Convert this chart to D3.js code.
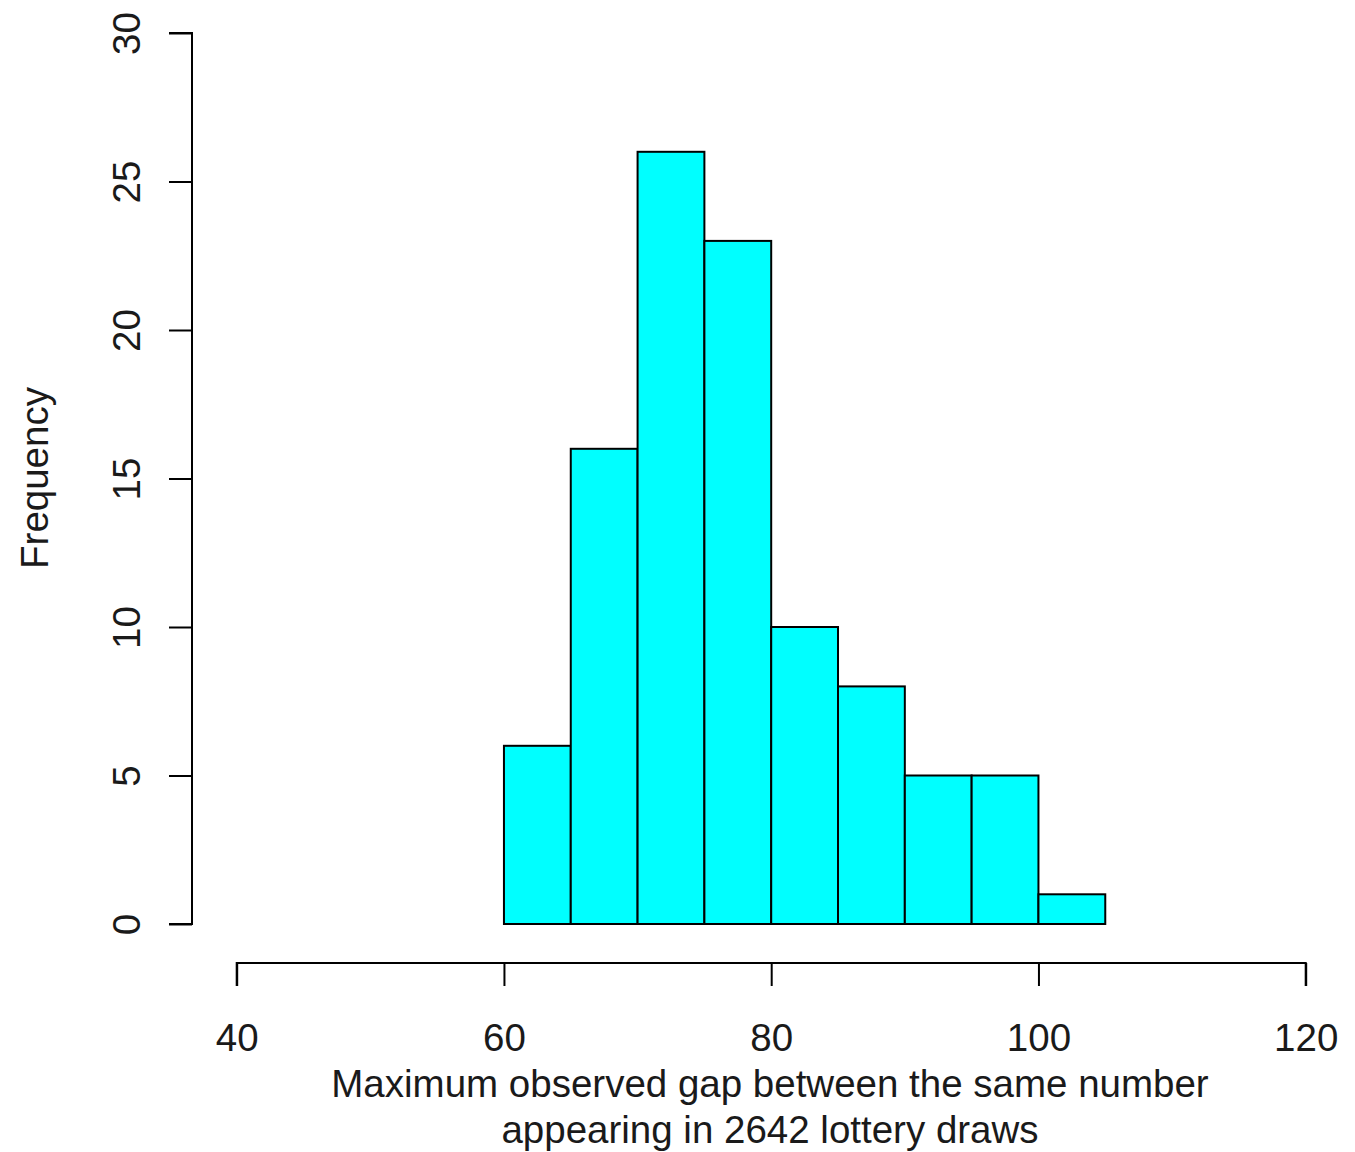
<!DOCTYPE html>
<html><head><meta charset="utf-8">
<script src="https://cdn.jsdelivr.net/npm/d3@7"></script>
<style>html,body{margin:0;padding:0;background:#fff;}svg{display:block;}</style>
</head><body>
<script>
const binStarts = [60, 65, 70, 75, 80, 85, 90, 95, 100];
const binWidth = 5;
const counts = [6, 16, 26, 23, 10, 8, 5, 5, 1];
const xTicks = [40, 60, 80, 100, 120];
const yTicks = [0, 5, 10, 15, 20, 25, 30];
const xTitle = ["Maximum observed gap between the same number", "appearing in 2642 lottery draws"];
const yTitle = "Frequency";

const W = 1355, H = 1152;
const font = "'Liberation Sans', Arial, sans-serif";
const fs = 38.5;
const svg = d3.select("body").append("svg").attr("width", W).attr("height", H);

const x = d3.scaleLinear().domain([40, 120]).range([236.7, 1305.7]);
const y = d3.scaleLinear().domain([0, 30]).range([924, 33]);

// bars
svg.append("g").selectAll("rect").data(binStarts).join("rect")
  .attr("x", d => x(d))
  .attr("y", (d, i) => y(counts[i]))
  .attr("width", d => x(d + binWidth) - x(d))
  .attr("height", (d, i) => y(0) - y(counts[i]))
  .attr("fill", "#00FFFF")
  .attr("stroke", "#000")
  .attr("stroke-width", 2);

// x axis
const xAxis = svg.append("g").attr("transform", "translate(0,963)")
  .call(d3.axisBottom(x).tickValues(xTicks).tickSize(23).tickPadding(38).tickFormat(d3.format("d")));
xAxis.select(".domain").attr("stroke-width", 2).attr("d", `M${x(40)},23V0H${x(120)}V23`);
xAxis.selectAll(".tick line").attr("stroke-width", 2);
xAxis.selectAll(".tick text").attr("font-family", font).attr("font-size", fs).attr("fill", "#1a1a1a");

// y axis
const yAxis = svg.append("g").attr("transform", "translate(192,0)")
  .call(d3.axisLeft(y).tickValues(yTicks).tickSize(23).tickFormat(d3.format("d")));
yAxis.select(".domain").attr("stroke-width", 2).attr("d", `M-23,${y(30)}H0V${y(0)}H-23`);
yAxis.selectAll(".tick line").attr("stroke-width", 2);
yAxis.selectAll(".tick text")
  .attr("font-family", font).attr("font-size", fs).attr("fill", "#1a1a1a")
  .attr("x", null).attr("dy", null)
  .attr("text-anchor", "middle")
  .attr("transform", "translate(-52,0) rotate(-90)");

// titles
svg.append("g").selectAll("text").data(xTitle).join("text")
  .attr("x", 770).attr("y", (d, i) => 1097 + i * 46)
  .attr("text-anchor", "middle")
  .attr("font-family", font).attr("font-size", fs).attr("fill", "#1a1a1a")
  .text(d => d);

svg.append("text")
  .attr("transform", "translate(48,478) rotate(-90)")
  .attr("text-anchor", "middle")
  .attr("font-family", font).attr("font-size", fs).attr("fill", "#1a1a1a")
  .text(yTitle);
</script>
</body></html>
